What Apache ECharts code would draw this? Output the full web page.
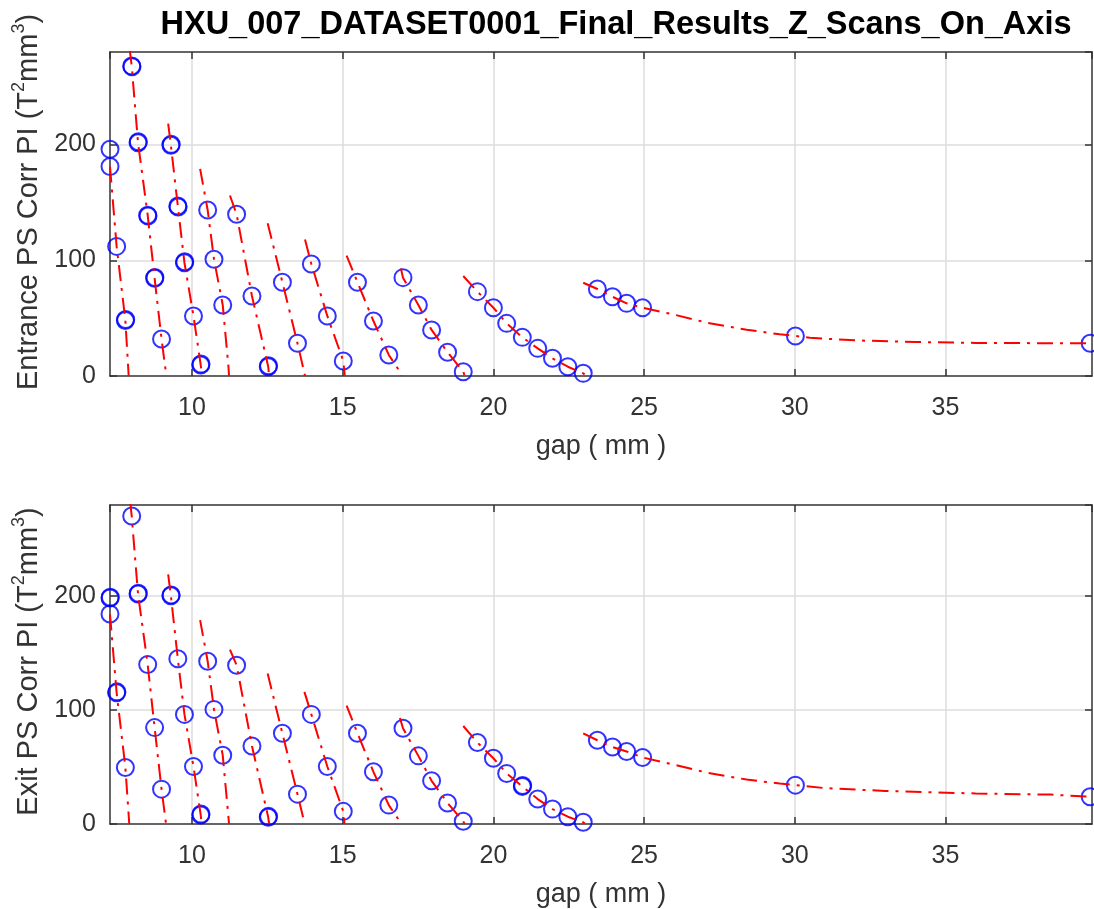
<!DOCTYPE html>
<html>
<head>
<meta charset="utf-8">
<title>HXU_007_DATASET0001_Final_Results_Z_Scans_On_Axis</title>
<script src="https://cdn.jsdelivr.net/npm/echarts@6.0.0/dist/echarts.min.js"></script>
<style>
  html, body { margin: 0; padding: 0; background: #fff; }
  #chart { width: 1094px; height: 909px; }
</style>
</head>
<body>
<div id="chart"></div>
<script>
// gap (mm) of every scan point, one list per Z scan
const gapGroups = [
  [7.28, 7.28, 7.5, 7.79],
  [8.0, 8.21, 8.53, 8.76, 8.99],
  [9.3, 9.53, 9.75, 10.05, 10.29],
  [10.52, 10.73, 11.02],
  [11.48, 11.99, 12.53],
  [13.0, 13.5],
  [13.96, 14.49, 15.02],
  [15.49, 16.02, 16.53],
  [17.0, 17.51, 17.95, 18.48, 19.0],
  [19.47, 20.0, 20.44, 20.96, 21.47, 21.96, 22.47, 22.98],
  [23.45, 23.95, 24.42, 24.95, 30.02, 39.8]
];

// Entrance PS Corr PI (T^2 mm^3)
const entranceGroups = [
  [196, 181, 112, 48],
  [268, 201.6, 139, 84.4, 32],
  [199.4, 146.9, 97.9, 51.9, 9.5],
  [143.5, 100.9, 61.4],
  [139.8, 69.1, 8],
  [81, 28.3],
  [96.8, 51.9, 13],
  [81, 47.5, 18.2],
  [85, 61.4, 39.8, 20.5, 3.7],
  [72.9, 59, 45.5, 33.4, 23.9, 15.3, 8, 2.3],
  [75.2, 68.5, 62.8, 59, 34.6, 28.3]
];

// Exit PS Corr PI (T^2 mm^3)
const exitGroups = [
  [198.3, 184.3, 115.2, 49.6],
  [270.3, 201.8, 140, 84.6, 30.6],
  [200.3, 145, 96.2, 50.5, 7.9],
  [142.9, 100.6, 60.4],
  [139.4, 68.5, 5.9],
  [79.6, 26.2],
  [96.2, 50.5, 11.1],
  [79.6, 45.8, 16.6],
  [84.1, 59.8, 37.9, 18.4, 2.4],
  [71.5, 57.7, 44.4, 33, 21.9, 13.1, 6.4, 1.5],
  [73.5, 67.6, 63.6, 58.4, 34.1, 23.9]
];

// repeated measurements (a second circle almost on top of the first)
const entranceRepeats = [[7.8, 48.8], [8.01, 267.2], [8.22, 202.4], [8.54, 138.2], [8.77, 85.2],
  [9.31, 200.2], [9.54, 146.1], [9.76, 98.7], [10.3, 10.3], [12.54, 8.8]];
const exitRepeats = [[7.29, 199.1], [7.51, 116], [8.22, 202.6], [9.31, 201.1], [10.3, 8.7],
  [12.54, 6.7], [20.97, 33.8]];

// fitted curves [gap, PI], one per scan
const entranceFits = [
  [[7.28, 181], [7.5, 112], [7.79, 48], [7.9, 0]],
  [[7.93, 283], [8.0, 268], [8.21, 201.6], [8.53, 139], [8.76, 84.4], [8.99, 32], [9.15, 0]],
  [[9.21, 218], [9.3, 199.4], [9.53, 146.9], [9.75, 97.9], [10.05, 51.9], [10.29, 9.5], [10.33, 0]],
  [[10.27, 179], [10.52, 143.5], [10.73, 100.9], [11.02, 61.4], [11.21, 8], [11.23, 0]],
  [[11.26, 156], [11.48, 139.8], [11.99, 69.1], [12.53, 8], [12.56, 0]],
  [[12.51, 132], [13.0, 81], [13.5, 28.3], [13.73, 2.5], [13.75, 0]],
  [[13.75, 118], [13.96, 96.8], [14.49, 51.9], [15.02, 13], [15.07, 0]],
  [[15.13, 104], [15.49, 81], [16.02, 47.5], [16.53, 18.2], [16.9, 3.7], [16.95, 0]],
  [[16.93, 93], [17.0, 85], [17.51, 61.4], [17.95, 39.8], [18.48, 20.5], [19.0, 3.7], [19.05, 0]],
  [[19.0, 86.4], [19.47, 72.9], [20.0, 59], [20.44, 45.5], [20.96, 33.4], [21.47, 23.9], [21.96, 15.3], [22.47, 8], [22.98, 2.3], [23.1, 0]],
  [[22.98, 80.6], [23.45, 75.2], [23.95, 68.5], [24.42, 62.8], [24.95, 59], [26, 53], [27.1, 46], [28.4, 40],
   [29.5, 36], [30.02, 34.6], [30.5, 33], [32, 30.8], [34, 29.4], [36, 28.6], [39.8, 28.2]]
];
const exitFits = [
  [[7.28, 184], [7.5, 115.2], [7.79, 49.6], [7.92, 0]],
  [[7.95, 283], [8.0, 270.3], [8.21, 201.8], [8.53, 140], [8.76, 84.6], [8.99, 30.6], [9.14, 0]],
  [[9.21, 219], [9.3, 200.3], [9.53, 145], [9.75, 96.2], [10.05, 50.5], [10.29, 7.9], [10.32, 0]],
  [[10.27, 179], [10.52, 142.9], [10.73, 100.6], [11.02, 60.4], [11.21, 6], [11.23, 0]],
  [[11.26, 153], [11.48, 139.4], [11.99, 68.5], [12.53, 5.9], [12.56, 0]],
  [[12.51, 132], [13.0, 79.6], [13.5, 26.2], [13.73, 1], [13.74, 0]],
  [[13.73, 116], [13.96, 96.2], [14.49, 50.5], [15.02, 11.1], [15.06, 0]],
  [[15.13, 104], [15.49, 79.6], [16.02, 45.8], [16.53, 16.6], [16.9, 2], [16.93, 0]],
  [[16.9, 93], [17.0, 84.1], [17.51, 59.8], [17.95, 37.9], [18.48, 18.4], [19.0, 2.4], [19.04, 0]],
  [[19.0, 86], [19.47, 71.5], [20.0, 57.7], [20.44, 44.4], [20.96, 33], [21.47, 21.9], [21.96, 13.1], [22.47, 6.4], [22.98, 1.5], [23.05, 0]],
  [[22.98, 79.6], [23.45, 73.5], [23.95, 67.6], [24.42, 63.6], [24.95, 58.4], [26, 52], [27.1, 45], [28.4, 39],
   [29.5, 35.5], [30.02, 34.1], [31, 31.5], [33, 29], [36, 26.8], [38.5, 25.8], [39.8, 23.9]]
];

const gapRange = [7.28, 39.86];
const piRange = [0, 280];

const FONT = '"Liberation Sans", Arial, Helvetica, sans-serif';
const INK = '#333';

function toPoints(values, repeats) {
  const pts = [];
  gapGroups.forEach((g, i) => g.forEach((x, j) => pts.push([x, values[i][j]])));
  return pts.concat(repeats);
}

function xAxes(grid) {
  const base = {
    gridIndex: grid, type: 'value', min: gapRange[0], max: gapRange[1],
    axisLine: { show: true, onZero: false, lineStyle: { color: INK, width: 1.5 } },
    axisTick: { show: true, inside: true, length: 7, lineStyle: { color: INK, width: 1.5 } }
  };
  return [
    Object.assign({}, base, {
      position: 'bottom',
      name: 'gap ( mm )', nameLocation: 'middle', nameGap: 57,
      nameTextStyle: { fontSize: 27, color: INK, fontFamily: FONT },
      axisLabel: { fontSize: 25, color: INK, fontFamily: FONT, margin: 20, showMinLabel: false, showMaxLabel: false },
      splitLine: { show: true, showMinLine: false, showMaxLine: false, lineStyle: { color: '#dcdcdc', width: 1.5 } }
    }),
    Object.assign({}, base, { position: 'top', axisLabel: { show: false }, splitLine: { show: false } })
  ];
}

function yAxes(grid, label, lift) {
  const base = {
    gridIndex: grid, type: 'value', min: piRange[0], max: piRange[1], interval: 100,
    axisLine: { show: true, onZero: false, lineStyle: { color: INK, width: 1.5 } },
    axisTick: { show: true, inside: true, length: 7, lineStyle: { color: INK, width: 1.5 } }
  };
  return [
    Object.assign({}, base, {
      position: 'left',
      name: '{n|' + label + ' PS Corr PI (T}{s|2}{n|mm}{s|3}{n|)}',
      nameLocation: 'middle', nameGap: 48,
      nameTextStyle: {
        fontSize: 29, color: INK, fontFamily: FONT, padding: [0, 0, 0, lift],
        rich: {
          n: { fontSize: 29, lineHeight: 33, color: INK, fontFamily: FONT, verticalAlign: 'bottom' },
          s: { fontSize: 18, lineHeight: 18, color: INK, fontFamily: FONT, verticalAlign: 'top' }
        }
      },
      axisLabel: { fontSize: 25, color: INK, fontFamily: FONT, margin: 14, showMaxLabel: false },
      splitLine: { show: true, showMinLine: false, showMaxLine: false, lineStyle: { color: '#dcdcdc', width: 1.5 } }
    }),
    Object.assign({}, base, { position: 'right', axisLabel: { show: false }, splitLine: { show: false } })
  ];
}

function panelSeries(values, repeats, fits, grid) {
  const list = [{
    type: 'scatter', xAxisIndex: grid * 2, yAxisIndex: grid * 2,
    data: toPoints(values, repeats),
    symbol: 'circle', symbolSize: 17, clip: false, z: 3,
    itemStyle: { color: 'rgba(0,0,0,0)', borderColor: '#0000ff', borderWidth: 2 }
  }];
  fits.forEach(f => list.push({
    type: 'line', xAxisIndex: grid * 2, yAxisIndex: grid * 2,
    data: f, showSymbol: false, symbol: 'none', clip: true, z: 4,
    lineStyle: { color: '#ff0000', width: 2, type: [16, 7, 3, 7], cap: 'butt' }
  }));
  return list;
}

const chart = echarts.init(document.getElementById('chart'));
chart.setOption({
  animation: false,
  backgroundColor: '#fff',
  title: {
    text: 'HXU_007_DATASET0001_Final_Results_Z_Scans_On_Axis',
    left: 611, textAlign: 'center', top: 4,
    textStyle: { fontSize: 32.5, fontWeight: 'bold', color: '#000', fontFamily: FONT }
  },
  grid: [
    { left: 110, top: 52, width: 982, height: 324 },
    { left: 110, top: 505, width: 982, height: 320 }
  ],
  xAxis: xAxes(0).concat(xAxes(1)),
  yAxis: yAxes(0, 'Entrance', 24).concat(yAxes(1, 'Exit', 6)),
  series: panelSeries(entranceGroups, entranceRepeats, entranceFits, 0)
    .concat(panelSeries(exitGroups, exitRepeats, exitFits, 1))
});
</script>
</body>
</html>
